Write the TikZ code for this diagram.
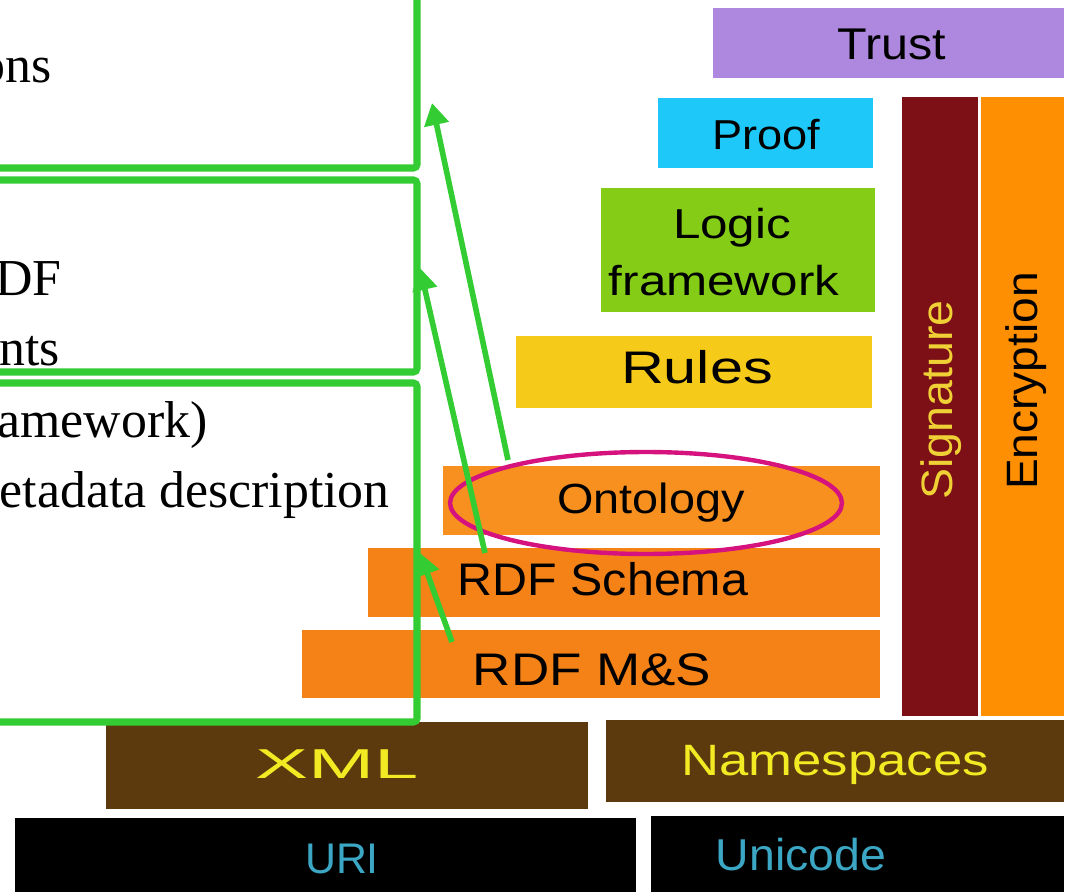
\documentclass[tikz,border=0pt]{standalone}
\usepackage{fontspec}
\setmainfont{Liberation Serif}
\setsansfont{Liberation Sans}
\usetikzlibrary{fit,arrows.meta,shapes.geometric}
\definecolor{trustc}{HTML}{AD88DE}
\definecolor{proofc}{HTML}{1EC9F9}
\definecolor{logicc}{HTML}{84CC16}
\definecolor{rulesc}{HTML}{F6CA18}
\definecolor{ontoc}{HTML}{F7901E}
\definecolor{rdfc}{HTML}{F58216}
\definecolor{sigc}{HTML}{7D1016}
\definecolor{encc}{HTML}{FE8F03}
\definecolor{xmlc}{HTML}{5C3A0E}
\definecolor{yel}{HTML}{F2EA22}
\definecolor{sigtxt}{HTML}{EFD035}
\definecolor{uric}{HTML}{3BA7C4}
\definecolor{grn}{HTML}{33CC33}
\definecolor{mag}{HTML}{D6127F}
\begin{document}
\begin{tikzpicture}[x=0.02cm,y=-0.02cm,
  blk/.style={inner sep=0pt, outer sep=0pt, draw=none},
  lbl/.style={font=\sffamily, anchor=base, inner sep=0pt},
  note/.style={font=\rmfamily\fontsize{29.5pt}{35pt}\selectfont, anchor=base east, inner sep=0pt},
  gbox/.style={draw=grn, line width=4pt, rounded corners=2pt, inner sep=0pt, outer sep=0pt},
  garrow/.style={draw=grn, line width=3.2pt, -{Triangle[length=4.4mm,width=4.8mm]}},
  fs/.style={font=\sffamily\fontsize{#1pt}{#1pt}\selectfont}
]
\useasboundingbox (0,0) rectangle (1072,892);
\clip (0,0) rectangle (1072,892);
\fill[white] (0,0) rectangle (1072,892);

% layer blocks
\node[blk, fill=trustc, fit={(713,8)(1064,78)}] (trust) {};
\node[blk, fill=proofc, fit={(658,98)(873,168)}] (proof) {};
\node[blk, fill=logicc, fit={(601,188)(875,312)}] (logic) {};
\node[blk, fill=rulesc, fit={(516,336)(872,408)}] (rules) {};
\node[blk, fill=sigc, fit={(902,97)(978,716)}] (sig) {};
\node[blk, fill=encc, fit={(981,97)(1064,716)}] (enc) {};
\node[blk, fill=ontoc, fit={(443,466)(880,535)}] (onto) {};
\node[blk, fill=rdfc, fit={(368,548)(880,617)}] (rdfs) {};
\node[blk, fill=rdfc, fit={(302,630)(880,698)}] (rdfms) {};
\node[blk, fill=xmlc, fit={(106,722)(588,809)}] (xml) {};
\node[blk, fill=xmlc, fit={(606,720)(1064,802)}] (ns) {};
\node[blk, fill=black, fit={(15,818)(636,900)}] (uri) {};
\node[blk, fill=black, fit={(651,816)(1064,900)}] (uni) {};

% labels
\node[lbl, fs=25.3] (tTrust) at (892,60) {\scalebox{1.09}[1]{Trust}};
\node[lbl, fs=23.8] (tProof) at (766,150) {\scalebox{1.08}[1]{Proof}};
\node[lbl, fs=23.8] (tLogic) at (732,238) {\scalebox{1.18}[1]{Logic}};
\node[lbl, fs=23.8] (tFrame) at (724,295) {\scalebox{1.18}[1]{framework}};
\node[lbl, fs=26] (tRules) at (697,383) {\scalebox{1.3}[1]{Rules}};
\node[lbl, fs=24] (tOnto) at (651,513) {\scalebox{1.11}[1]{Ontology}};
\node[lbl, fs=26] (tRdfs) at (603,595) {\scalebox{1.06}[1]{RDF Schema}};
\node[lbl, fs=26] (tRdfms) at (592,685) {\scalebox{1.16}[1]{RDF M\&S}};
\node[lbl, fs=23.8, text=yel] (tXml) at (337,778) {\scalebox{1.9}[1]{XML}};
\node[lbl, fs=25, text=yel] (tNs) at (835,775) {\scalebox{1.2}[1]{Namespaces}};
\node[lbl, fs=24.4, text=uric] (tUri) at (342,873) {URI};
\node[lbl, fs=25.4, text=uric] (tUni) at (801,870) {\scalebox{1.04}[1]{Unicode}};
\node[lbl, fs=25, text=sigtxt, rotate=90] (tSig) at (952,400) {\scalebox{1.06}[1]{Signature}};
\node[lbl, fs=25, rotate=90] (tEnc) at (1037,381) {\scalebox{1.05}[1]{Encryption}};

% ellipse
\node[draw=mag, line width=2.5pt, ellipse, minimum width=7.84cm, minimum height=2.04cm, inner sep=0pt] (ell) at (646,503) {};

% green boxes
\node[gbox, fit={(-40,-40)(417,168)}] (box1) {};
\node[gbox, fit={(-40,180)(417,372)}] (box2) {};
\node[gbox, fit={(-40,383)(417,722)}] (box3) {};

% notes
\node[note] (n1) at (52,83) {ons};
\node[note] (n2) at (62,295) {DF};
\node[note] (n3) at (60,365) {nts};
\node[note] (n4) at (208,437) {amework)};
\node[note] (n5) at (390,507) {etadata description};

% arrows
\coordinate (a1s) at (508,460);
\coordinate (a1e) at (432,103);
\coordinate (a2s) at (485,553);
\coordinate (a2e) at (420,268);
\coordinate (a3s) at (452,642);
\coordinate (a3e) at (420,553);
\draw[garrow] (a1s) -- (a1e);
\draw[garrow] (a2s) -- (a2e);
\draw[garrow] (a3s) -- (a3e);
\end{tikzpicture}
\end{document}
